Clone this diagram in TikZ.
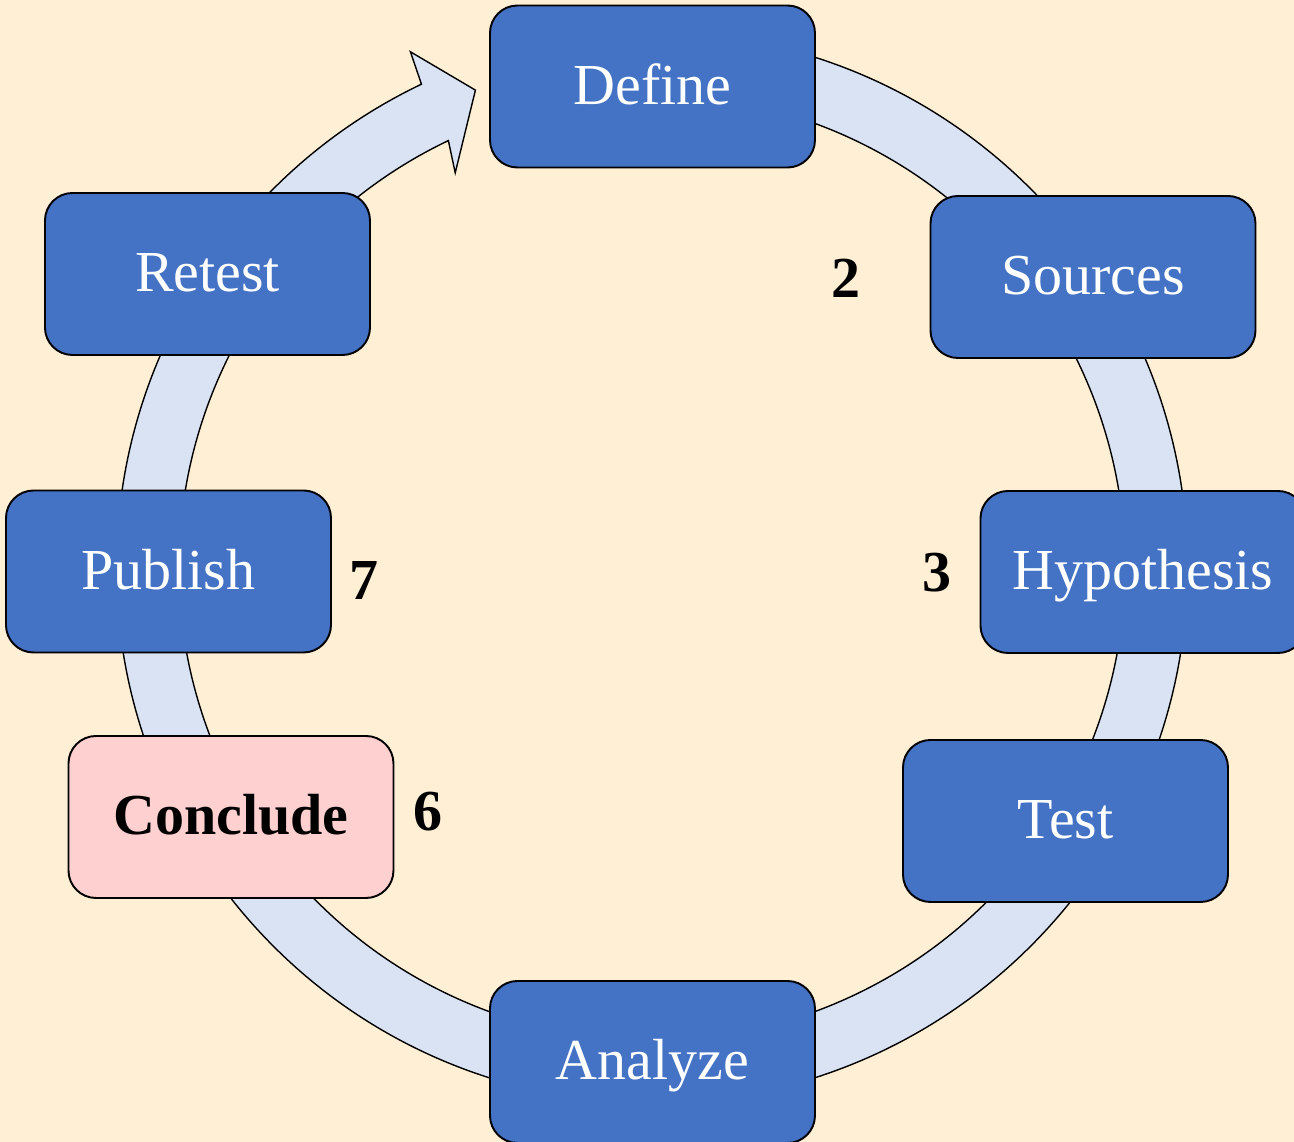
\documentclass[tikz,border=0pt]{standalone}
\usepackage{fontspec}
\setmainfont{Liberation Serif}
\usepackage{xcolor}
\definecolor{bgcream}{HTML}{FFEFD5}
\definecolor{ringblue}{HTML}{DAE3F3}
\definecolor{boxblue}{HTML}{4472C4}
\definecolor{boxpink}{HTML}{FFD0D0}

\begin{document}
\begin{tikzpicture}[
  stepbox/.style={draw=black, line width=1.1pt, rounded corners=0.55cm,
    minimum width=6.5cm, minimum height=3.24cm, fill=boxblue, text=white,
    font=\fontsize{33}{40}\selectfont, text height=0.72cm, text depth=0cm},
  numlabel/.style={font=\fontsize{33}{40}\selectfont\bfseries, inner sep=0pt}]

\fill[bgcream] (-13.04,-11.49) rectangle (12.84,11.35);
\useasboundingbox (-13.04,-11.49) rectangle (12.84,11.35);

% cycle arrow
\draw[fill=ringblue, line width=0.8pt] (85:10.71)
  arc[start angle=85, end angle=-244.5, radius=10.71]
  -- (-244.9:11.39) -- (-249.7:10.18) -- (-243.5:8.82) -- (-244.5:9.46)
  arc[start angle=-244.5, end angle=85, radius=9.46] -- cycle;

% steps
\foreach \name/\x/\y/\txt in {define/0.01/9.62/Define, sources/8.82/5.81/Sources,
  hypothesis/9.82/-0.09/Hypothesis, test/8.27/-5.07/Test, analyze/0.01/-9.89/Analyze,
  publish/-9.67/-0.08/Publish, retest/-8.89/5.87/Retest}
  \node[stepbox] (\name) at (\x,\y) {\txt};
\node[stepbox, fill=boxpink, text=black, font=\fontsize{33}{40}\selectfont\bfseries]
  (conclude) at (-8.42,-4.99) {Conclude};

% numbers
\node[numlabel] (n2) at (3.89,5.79) {2};
\node[numlabel] (n3) at (5.70,-0.10) {3};
\node[numlabel] (n6) at (-4.48,-4.89) {6};
\node[numlabel] (n7) at (-5.76,-0.27) {7};

\end{tikzpicture}
\end{document}
